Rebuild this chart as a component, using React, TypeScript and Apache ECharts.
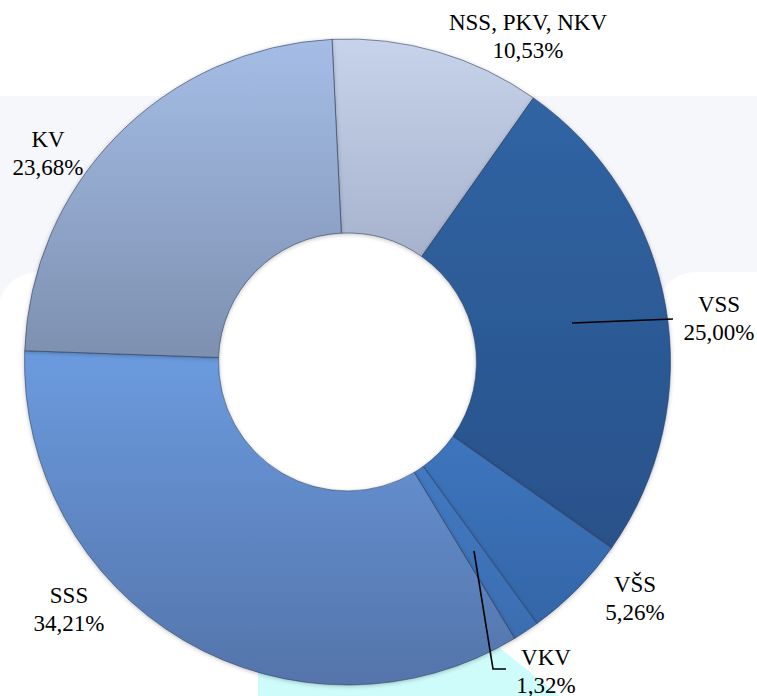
import React, { useEffect, useRef } from "react";
import * as echarts from "echarts";

const categories = ["NSS, PKV, NKV", "VSS", "VŠS", "VKV", "SSS", "KV"];
const values = [10.53, 25.0, 5.26, 1.32, 34.21, 23.68];
const withLine = ["VSS", "VKV"];

const sliceColors: Record<string, [string, string]> = {
  "NSS, PKV, NKV": ["#c7d3eb", "#a7b3cc"],
  VSS: ["#3064a3", "#29518a"],
  "VŠS": ["#3d75bd", "#3466a8"],
  VKV: ["#4279c2", "#3b6db0"],
  SSS: ["#6b9bdf", "#5474aa"],
  KV: ["#a5bde6", "#7d90b0"],
};

const labelPos: Record<string, [number, number]> = {
  "NSS, PKV, NKV": [528, 36],
  VSS: [719, 318],
  "VŠS": [635, 598],
  VKV: [546, 671],
  SSS: [69, 609],
  KV: [48, 153],
};

const linePts: Record<string, number[][]> = {
  VSS: [[572, 323], [622, 321], [673, 319]],
  VKV: [[474, 551], [493, 669], [506, 669]],
};

export default function App() {
  const ref = useRef<HTMLDivElement>(null);
  useEffect(() => {
    if (!ref.current) return;
    const chart = echarts.init(ref.current, null, { renderer: "svg" });
    const data = categories.map((name, i) => ({
      name,
      value: values[i],
      itemStyle: {
        color: new echarts.graphic.LinearGradient(0, 0, 0, 1, [
          { offset: 0, color: sliceColors[name][0] },
          { offset: 1, color: sliceColors[name][1] },
        ]),
      },
    }));
    const labelData = categories.map((name, i) => ({
      name,
      value: values[i],
      labelLine: { show: withLine.includes(name) },
    }));
    const common = {
      type: "pie",
      center: [347.5, 362],
      radius: [129, 323],
      startAngle: 92.75,
      clockwise: true,
      avoidLabelOverlap: false,
      emphasis: { disabled: true },
      silent: true,
    };
    chart.setOption({
      animation: false,
      backgroundColor: "#ffffff",
      graphic: [
        { type: "rect", z: -10, shape: { x: 0, y: 96, width: 757, height: 220 }, style: { fill: "#f6f7fa" } },
        { type: "rect", z: -9, shape: { x: -2, y: 272, width: 640, height: 430, r: 40 }, style: { fill: "#ffffff" } },
        { type: "rect", z: -9, shape: { x: 656, y: 272, width: 200, height: 430, r: 40 }, style: { fill: "#ffffff" } },
        {
          type: "polygon",
          z: -8,
          shape: { points: [[258, 640], [490, 640], [560, 696], [258, 696]] },
          style: { fill: "#cdfcfb" },
        },
        { type: "circle", z: -5, shape: { cx: 347.5, cy: 362, r: 130 }, style: { fill: "#ffffff" } },
      ],
      series: [
        {
          ...common,
          z: 2,
          data,
          itemStyle: {
            borderColor: "rgba(40,55,85,0.55)",
            borderWidth: 1,
            shadowBlur: 4,
            shadowColor: "rgba(0,0,0,0.25)",
            shadowOffsetY: 1,
          },
          label: { show: false },
          labelLine: { show: false },
        },
        {
          ...common,
          z: 5,
          data: labelData,
          itemStyle: { color: "rgba(0,0,0,0)", borderWidth: 0 },
          label: {
            show: true,
            position: "outside",
            formatter: (p: any) => `${p.name}\n${p.value.toFixed(2).replace(".", ",")}%`,
            fontFamily: "'Liberation Serif', 'Times New Roman', serif",
            fontSize: 23,
            lineHeight: 28,
            color: "#000000",
            align: "center",
          },
          labelLine: {
            show: true,
            showAbove: true,
            lineStyle: { color: "#000000", width: 1.6 },
          },
          labelLayout: (params: any) => {
            const name = categories[params.dataIndex];
            const [x, y] = labelPos[name];
            const out: any = { x, y, align: "center", verticalAlign: "middle" };
            if (linePts[name]) out.labelLinePoints = linePts[name];
            return out;
          },
        },
      ],
    });
    return () => chart.dispose();
  }, []);
  return <div ref={ref} style={{ position: "fixed", left: 0, top: 0, width: 757, height: 696 }} />;
}
